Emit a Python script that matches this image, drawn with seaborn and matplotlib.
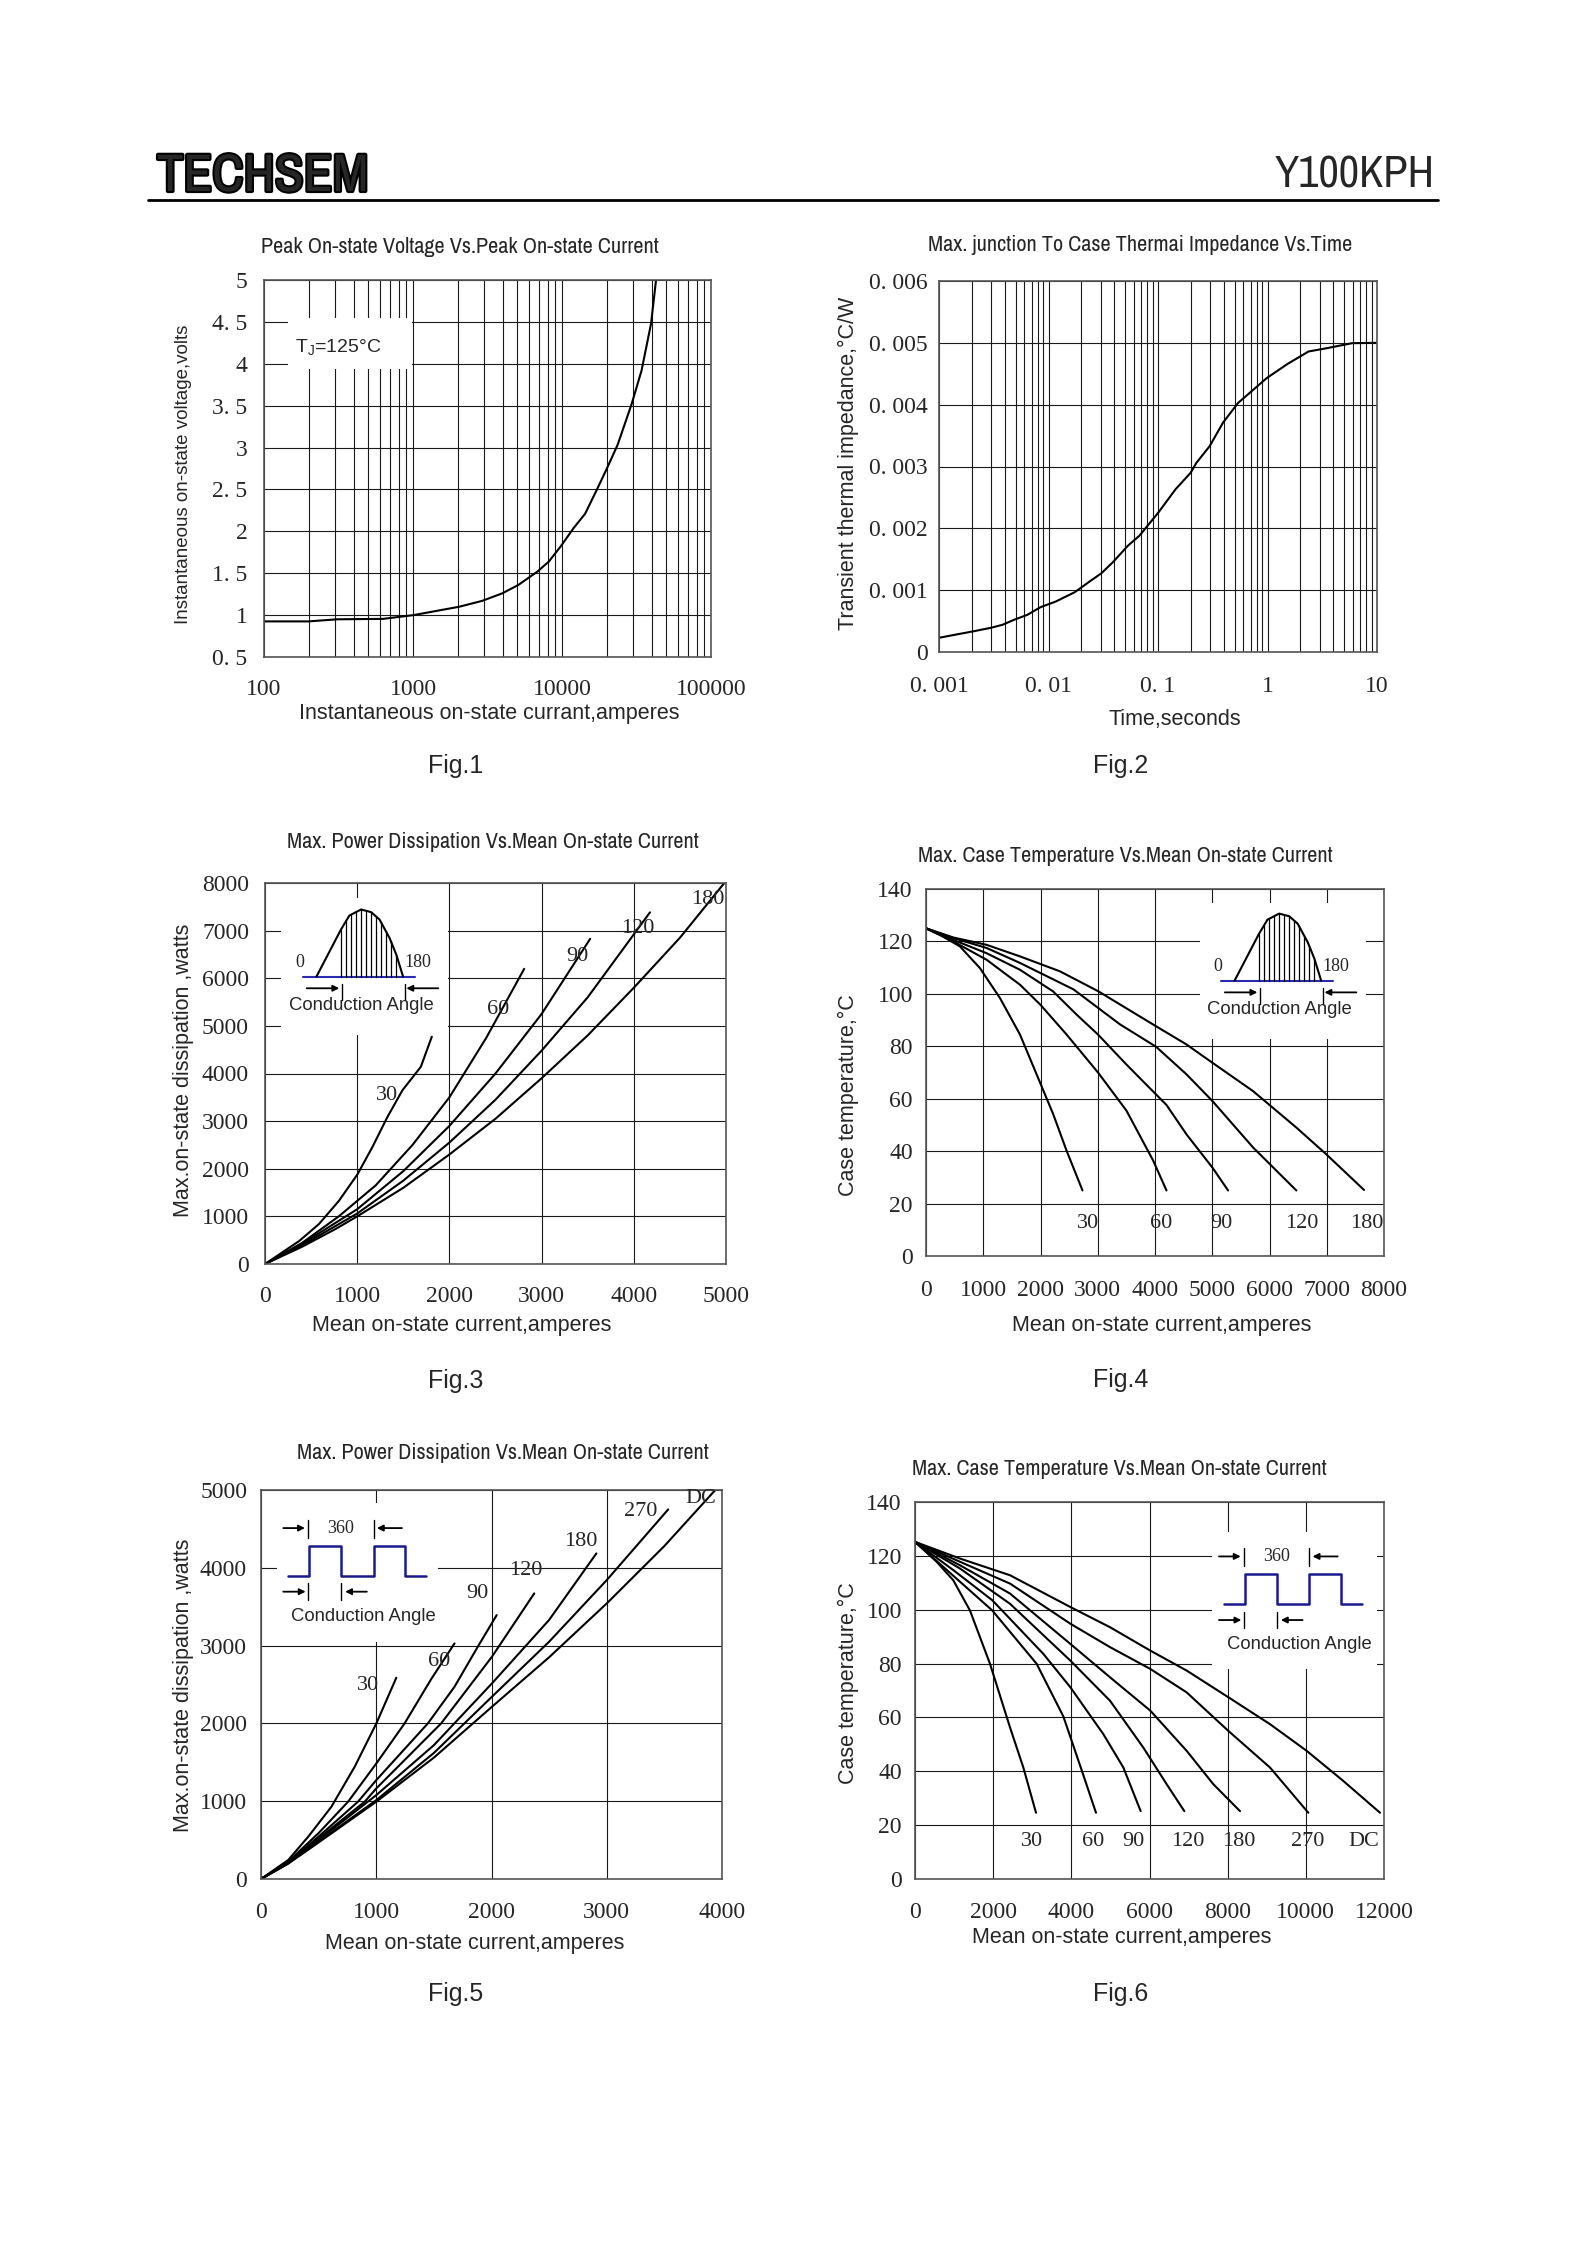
import numpy as np
import matplotlib
matplotlib.use("Agg")
import matplotlib.pyplot as plt
import matplotlib.transforms as mtransforms
import matplotlib.patheffects as pe
from matplotlib.patches import Rectangle
from matplotlib.lines import Line2D
from matplotlib import font_manager
from matplotlib.ticker import LogLocator, NullFormatter
import seaborn as sns

W, H = 1588, 2245

sns.set_style("white")
_names = sorted({f.name for f in font_manager.fontManager.ttflist})
_narrow = [n for n in _names if ("Narrow" in n or "Condensed" in n) and "DejaVu" not in n]
HAS_NARROW = len(_narrow) > 0
NARROW = [_narrow[0], "DejaVu Sans"] if HAS_NARROW else ["Liberation Sans", "DejaVu Sans"]


def _wt(w):
    if isinstance(w, str):
        return font_manager.weight_dict.get(w, 400)
    return w


HAS_NARROW_BOLD = HAS_NARROW and any(
    f.name == _narrow[0] and _wt(f.weight) >= 600 for f in font_manager.fontManager.ttflist)
SANS = ["Liberation Sans", "DejaVu Sans"]
SERIF = ["Liberation Serif", "DejaVu Serif"]
plt.rcParams["font.family"] = SANS
plt.rcParams["mathtext.fontset"] = "custom"
plt.rcParams["mathtext.rm"] = "Liberation Sans"
plt.rcParams["mathtext.it"] = "Liberation Sans"

# ---------------------------------------------------------
# DATA
# ---------------------------------------------------------
# Fig.1  peak on-state voltage vs current (Tj=125C)
f1_current = [100, 199, 310, 629, 1008, 2044, 2911, 3978, 5095, 6844, 8166, 9799,
              11976, 14294, 17058, 19770, 23591, 29338, 34200, 39600, 42770]
f1_voltage = [0.925, 0.925, 0.95, 0.955, 1.0, 1.1, 1.17, 1.26, 1.36, 1.52, 1.64, 1.82,
              2.04, 2.21, 2.49, 2.73, 3.03, 3.52, 3.92, 4.48, 5.0]

# Fig.2  transient thermal impedance vs time
f2_time = [0.001, 0.00146, 0.00204, 0.00299, 0.0038, 0.00483, 0.00639, 0.00846, 0.01164,
           0.01736, 0.0239, 0.0304, 0.0386, 0.0532, 0.0676, 0.1008, 0.1444, 0.199, 0.2243,
           0.2967, 0.3925, 0.540, 0.6867, 0.984, 1.528, 2.37, 3.40, 5.95, 10]
f2_zth = [0.00023, 0.000285, 0.000333, 0.000392, 0.00044, 0.00052, 0.0006, 0.000725, 0.000816,
          0.000967, 0.001144, 0.001273, 0.00145, 0.00172, 0.00188, 0.002256, 0.00263, 0.0029,
          0.00306, 0.00333, 0.00371, 0.00403, 0.00419, 0.00443, 0.00466, 0.00486, 0.00491,
          0.004995, 0.005]

# Fig.3  power dissipation, sine wave
f3_angles = ["30", "60", "90", "120", "180"]
f3_current = [
    [0, 369, 586, 803, 1002, 1165, 1328, 1491, 1690, 1809],
    [0, 400, 800, 1200, 1600, 2000, 2400, 2811],
    [0, 400, 1000, 1500, 2000, 2500, 3000, 3527],
    [0, 400, 1000, 1500, 2000, 2500, 3000, 3500, 4175],
    [0, 400, 767, 1000, 1500, 2000, 2500, 3000, 3500, 4000, 4500, 4982],
]
f3_power = [
    [0, 480, 840, 1330, 1880, 2456, 3088, 3649, 4140, 4772],
    [0, 440, 1000, 1650, 2500, 3500, 4750, 6197],
    [0, 420, 1150, 1950, 2900, 4000, 5250, 6829],
    [0, 390, 1060, 1750, 2550, 3450, 4480, 5600, 7383],
    [0, 360, 737, 1000, 1600, 2300, 3050, 3900, 4800, 5800, 6850, 8000],
]
f3_label_x = [1320, 2533, 3390, 4041, 4801]
f3_label_y = [3530, 5348, 6457, 7053, 7664]

# Fig.4  case temperature, sine wave
f4_angles = ["30", "60", "90", "120", "180"]
f4_current = [
    [0, 244, 593, 943, 1292, 1641, 1932, 2222, 2455, 2734],
    [0, 477, 1059, 1641, 1996, 2455, 3008, 3503, 3968, 4201],
    [0, 477, 1059, 1641, 2222, 2630, 3008, 3503, 4201, 4550, 5004, 5277],
    [0, 477, 1059, 1641, 2577, 3386, 4020, 4550, 5004, 5713, 6469],
    [0, 477, 1059, 1641, 2339, 3008, 3968, 4550, 5004, 5713, 6469, 6987, 7651],
]
f4_temp = [
    [125, 122.5, 118.1, 109.8, 98.4, 84.5, 69.3, 54.1, 40.2, 25.0],
    [125, 120.0, 113.0, 103.5, 95.9, 84.5, 69.9, 55.4, 36.4, 25.0],
    [125, 120.6, 115.5, 109.2, 100.9, 92.1, 84.4, 73.0, 57.6, 46.4, 33.7, 25.0],
    [125, 121.3, 117.5, 111.8, 101.7, 88.4, 79.8, 69.3, 59.1, 41.4, 25.0],
    [125, 121.5, 118.7, 114.3, 108.6, 101.0, 88.3, 80.7, 73.7, 62.9, 49.0, 38.9, 25.2],
]
f4_label_x = [2833, 4113, 5160, 6557, 7703]

# Fig.5  power dissipation, square wave
f5_angles = ["30", "60", "90", "120", "180", "270", "DC"]
f5_current = [
    [0, 236, 410, 611, 813, 1001, 1102, 1174],
    [0, 236, 500, 756, 1001, 1246, 1477, 1679],
    [0, 236, 500, 842, 1001, 1448, 1679, 1886, 2045],
    [0, 236, 500, 900, 1001, 1563, 2004, 2371],
    [0, 236, 500, 1001, 1500, 2004, 2500, 2910],
    [0, 236, 500, 1001, 1500, 2004, 2500, 3000, 3533],
    [0, 236, 500, 1001, 1500, 2004, 2500, 3000, 3500, 3942],
]
f5_power = [
    [0, 244, 544, 929, 1443, 2000, 2343, 2587],
    [0, 223, 590, 994, 1486, 2000, 2570, 3028],
    [0, 215, 545, 994, 1272, 2000, 2471, 2998, 3392],
    [0, 210, 520, 994, 1165, 2000, 2857, 3671],
    [0, 205, 500, 1079, 1720, 2514, 3330, 4185],
    [0, 200, 480, 1015, 1620, 2343, 3050, 3842, 4750],
    [0, 198, 470, 994, 1560, 2214, 2850, 3542, 4280, 5000],
]
f5_label_x = [929, 1549, 1880, 2299, 2774, 3293, 3813]
f5_label_y = [2493, 2793, 3671, 3970, 4334, 4720, 4891]

# Fig.6  case temperature, square wave
f6_angles = ["30", "60", "90", "120", "180", "270", "DC"]
f6_current = [
    [0, 554, 981, 1407, 1919, 2431, 2772, 3096],
    [0, 725, 1979, 3113, 3795, 4265, 4631],
    [0, 981, 1979, 3284, 3975, 4819, 5331, 5774],
    [0, 1151, 2431, 3975, 4990, 5842, 6439, 6891],
    [0, 1151, 2431, 3975, 4990, 6022, 6951, 7633, 8316],
    [0, 1151, 2431, 3975, 4990, 6022, 6951, 8017, 9083, 10064],
    [0, 1151, 2431, 3975, 4990, 6022, 6951, 8017, 9083, 10021, 10960, 11898],
]
f6_temp = [
    [125.2, 117.8, 110.9, 99.7, 79.9, 56.3, 41.4, 24.6],
    [125.2, 115.9, 99.7, 79.9, 60.4, 40.4, 24.6],
    [125.2, 114.7, 103.5, 83.6, 71.2, 53.8, 41.4, 25.2],
    [125.2, 115.3, 102.2, 81.1, 66.2, 48.8, 35.2, 25.2],
    [125.2, 116.5, 106.0, 87.3, 74.9, 62.5, 47.6, 35.2, 25.2],
    [125.2, 117.8, 109.7, 94.8, 86.1, 78.0, 69.3, 55.0, 41.4, 24.6],
    [125.2, 119.0, 112.8, 101.0, 93.5, 84.8, 77.4, 67.5, 57.5, 47.6, 36.4, 24.6],
]
f6_label_x = [3002, 4563, 5586, 6977, 8273, 10047, 11471]

# ---------------------------------------------------------
# helpers
# ---------------------------------------------------------
GRID_KW = dict(color="#1a1a1a", lw=0.8)
CURVE_KW = dict(color="black", lw=1.5, estimator=None, sort=False)
TITLE_SIZE = 16 if HAS_NARROW else 13.4


def fx(x):
    return x / W


def fy(y):
    return 1 - y / H


def add_ax(fig, x0, y0, x1, y1):
    return fig.add_axes([x0 / W, 1 - y1 / H, (x1 - x0) / W, (y1 - y0) / H])


def style_ax(ax, xpad, ypad):
    ax.set_axisbelow(True)
    ax.tick_params(which="both", length=0, labelsize=17)
    ax.tick_params(axis="x", pad=xpad)
    ax.tick_params(axis="y", pad=ypad)
    for lab in ax.get_xticklabels() + ax.get_yticklabels():
        lab.set_fontfamily(SERIF)
    for sp in ax.spines.values():
        sp.set_color("#555555")
        sp.set_linewidth(1.2)
    ax.set_xlabel("")
    ax.set_ylabel("")


def white_box(ax, x0, y0, x1, y1):
    ax.add_patch(Rectangle((x0, y0), x1 - x0, y1 - y0, transform=ax.transAxes,
                           facecolor="white", edgecolor="none", zorder=1))


def arrow(ax, tr, x0, x1, y):
    ax.annotate("", xy=(x1, y), xytext=(x0, y), xycoords=tr, textcoords=tr,
                arrowprops=dict(arrowstyle="-|>", color="black", lw=1.3, mutation_scale=9,
                                shrinkA=0, shrinkB=0), annotation_clip=False, zorder=4)


def tick_mark(ax, tr, x, y0, y1):
    ax.plot([x, x], [y0, y1], color="black", lw=1.0, transform=tr, clip_on=False, zorder=4)


def sine_inset(ax, ox, oy):
    # local units are pixels, origin at the left end of the blue baseline
    tr = mtransforms.ScaledTranslation(ox, oy, ax.transAxes)
    ax.plot([0, 112], [0, 0], color="#2a2ab0", lw=1.5, transform=tr, clip_on=False, zorder=4)
    hump_x = [13.1, 37.6, 46, 57.7, 67.8, 76.2, 86.2, 93, 99.7]
    hump_y = [0, 47, 61, 67.1, 64.4, 57, 38.6, 21.8, 0]
    ax.plot(hump_x, hump_y, color="black", lw=1.5, transform=tr, clip_on=False, zorder=4)
    for hx in np.arange(37.6, 97.0, 5.0):
        top = np.interp(hx, hump_x, hump_y)
        ax.plot([hx, hx], [0, top], color="black", lw=0.9, transform=tr, clip_on=False, zorder=4)
    ax.text(-3.7, 14.1, "0", transform=tr, ha="center", va="center", fontsize=13,
            family=SERIF, zorder=4)
    ax.text(114, 14.1, "180", transform=tr, ha="center", va="center", fontsize=13,
            family=SERIF, zorder=4)
    arrow(ax, tr, 3.4, 35.9, -11.7)
    tick_mark(ax, tr, 38.6, -7.4, -23.5)
    arrow(ax, tr, 134.9, 103, -11.7)
    tick_mark(ax, tr, 101.3, -7.4, -23.5)
    ax.text(57.7, -28.5, "Conduction Angle", transform=tr, ha="center", va="center",
            fontsize=13.3, family=SANS, zorder=4)


def square_inset(ax, ox, oy):
    tr = mtransforms.ScaledTranslation(ox, oy, ax.transAxes)
    wx = [0, 20.7, 20.7, 52.8, 52.8, 85.3, 85.3, 117.1, 117.1, 137.8]
    wy = [0, 0, 29.8, 29.8, 0, 0, 29.8, 29.8, 0, 0]
    ax.plot(wx, wy, color="#1a1a8a", lw=1.8, transform=tr, clip_on=False, zorder=4)
    ax.text(52.8, 47.5, "360", transform=tr, ha="center", va="center", fontsize=13,
            family=SERIF, zorder=4)
    arrow(ax, tr, -5, 16.7, 47.5)
    tick_mark(ax, tr, 20.1, 37.5, 55.9)
    arrow(ax, tr, 113.7, 88.6, 47.5)
    tick_mark(ax, tr, 85.3, 37.5, 55.9)
    arrow(ax, tr, -5, 17.4, -16.1)
    tick_mark(ax, tr, 20.1, -7.7, -24.4)
    arrow(ax, tr, 78.6, 56.9, -16.1)
    tick_mark(ax, tr, 52.8, -7.7, -24.4)
    ax.text(75.3, -40.5, "Conduction Angle", transform=tr, ha="center", va="center",
            fontsize=13.3, family=SANS, zorder=4)


def curve_labels(ax, xs, ys, texts):
    for x, y, t in zip(xs, ys, texts):
        ax.text(x, y, t, ha="center", va="center", fontsize=16, family=SERIF, zorder=4)


fig = plt.figure(figsize=(W / 100, H / 100), dpi=100)
fig.patch.set_facecolor("white")

# ---------------------------------------------------------
# header
# ---------------------------------------------------------
if HAS_NARROW:
    logo = fig.text(fx(157), fy(176), "TECHSEM", ha="left", va="center", family=NARROW,
                    weight="bold", fontsize=38)
    logo.set_path_effects([pe.withStroke(linewidth=1.2 if HAS_NARROW_BOLD else 3.0,
                                         foreground="black")])
else:
    fig.text(fx(156), fy(176), "TECHSEM", ha="left", va="center", family=SANS,
             weight="bold", fontsize=33)
fig.text(fx(1435), fy(176), "Y100KPH", ha="right", va="center", family=NARROW,
         fontsize=32 if HAS_NARROW else 26.5)
fig.add_artist(Line2D([fx(148), fx(1438)], [fy(200), fy(200)], color="black", lw=2))

# ---------------------------------------------------------
# Fig.1
# ---------------------------------------------------------
ax1 = add_ax(fig, 264, 280, 711, 657)
sns.lineplot(x=f1_current, y=f1_voltage, ax=ax1, **CURVE_KW)
ax1.set_xscale("log")
ax1.set_xlim(100, 100000)
ax1.set_ylim(0.5, 5)
ax1.xaxis.set_minor_locator(LogLocator(base=10, subs=np.arange(2, 10)))
ax1.xaxis.set_minor_formatter(NullFormatter())
ax1.set_xticks([100, 1000, 10000, 100000], ["100", "1000", "10000", "100000"])
ax1.set_yticks(np.arange(0.5, 5.01, 0.5),
               ["0. 5", "1", "1. 5", "2", "2. 5", "3", "3. 5", "4", "4. 5", "5"])
ax1.grid(True, which="both", axis="x", **GRID_KW)
ax1.grid(True, which="major", axis="y", **GRID_KW)
style_ax(ax1, 16, 12)
white_box(ax1, 0.053, 0.764, 0.330, 0.900)
ax1.text(0.07, 0.821, r"T$_\mathregular{J}$=125°C", transform=ax1.transAxes, ha="left",
         va="center", fontsize=14, family=SANS, zorder=4)

# ---------------------------------------------------------
# Fig.2
# ---------------------------------------------------------
ax2 = add_ax(fig, 939, 281, 1377, 652)
sns.lineplot(x=f2_time, y=f2_zth, ax=ax2, **CURVE_KW)
ax2.set_xscale("log")
ax2.set_xlim(0.001, 10)
ax2.set_ylim(0, 0.006)
ax2.xaxis.set_minor_locator(LogLocator(base=10, subs=np.arange(2, 10)))
ax2.xaxis.set_minor_formatter(NullFormatter())
ax2.set_xticks([0.001, 0.01, 0.1, 1, 10], ["0. 001", "0. 01", "0. 1", "1", "10"])
ax2.set_yticks(np.arange(0, 0.00601, 0.001),
               ["0", "0. 001", "0. 002", "0. 003", "0. 004", "0. 005", "0. 006"])
ax2.grid(True, which="both", axis="x", **GRID_KW)
ax2.grid(True, which="major", axis="y", **GRID_KW)
style_ax(ax2, 17, 8)

# ---------------------------------------------------------
# Fig.3
# ---------------------------------------------------------
ax3 = add_ax(fig, 265, 883, 726, 1264)
for xs, ys in zip(f3_current, f3_power):
    sns.lineplot(x=xs, y=ys, ax=ax3, **CURVE_KW)
ax3.set_xlim(0, 5000)
ax3.set_ylim(0, 8000)
ax3.set_xticks(range(0, 5001, 1000))
ax3.set_yticks(range(0, 8001, 1000))
ax3.grid(True, **GRID_KW)
style_ax(ax3, 16, 11.5)
white_box(ax3, 0.034, 0.601, 0.396, 0.961)
sine_inset(ax3, 0.0832, 0.7544)
curve_labels(ax3, f3_label_x, f3_label_y, f3_angles)

# ---------------------------------------------------------
# Fig.4
# ---------------------------------------------------------
ax4 = add_ax(fig, 926, 889, 1384, 1256)
for xs, ys in zip(f4_current, f4_temp):
    sns.lineplot(x=xs, y=ys, ax=ax4, **CURVE_KW)
ax4.set_xlim(0, 8000)
ax4.set_ylim(0, 140)
ax4.set_xticks(range(0, 8001, 1000))
ax4.set_yticks(range(0, 141, 20))
ax4.grid(True, **GRID_KW)
style_ax(ax4, 17, 9.5)
white_box(ax4, 0.598, 0.590, 0.961, 0.961)
sine_inset(ax4, 0.6451, 0.7502)
curve_labels(ax4, f4_label_x, [12.3] * len(f4_angles), f4_angles)

# ---------------------------------------------------------
# Fig.5
# ---------------------------------------------------------
ax5 = add_ax(fig, 261, 1490, 722, 1879)
for xs, ys in zip(f5_current, f5_power):
    sns.lineplot(x=xs, y=ys, ax=ax5, **CURVE_KW)
ax5.set_xlim(0, 4000)
ax5.set_ylim(0, 5000)
ax5.set_xticks(range(0, 4001, 1000))
ax5.set_yticks(range(0, 5001, 1000))
ax5.grid(True, **GRID_KW)
style_ax(ax5, 16.4, 10)
white_box(ax5, 0.034, 0.610, 0.384, 0.966)
square_inset(ax5, 0.0591, 0.780)
curve_labels(ax5, f5_label_x, f5_label_y, f5_angles)

# ---------------------------------------------------------
# Fig.6
# ---------------------------------------------------------
ax6 = add_ax(fig, 915, 1502, 1384, 1879)
for xs, ys in zip(f6_current, f6_temp):
    sns.lineplot(x=xs, y=ys, ax=ax6, **CURVE_KW)
ax6.set_xlim(0, 12000)
ax6.set_ylim(0, 140)
ax6.set_xticks(range(0, 12001, 2000))
ax6.set_yticks(range(0, 141, 20))
ax6.grid(True, **GRID_KW)
style_ax(ax6, 16.4, 9.5)
white_box(ax6, 0.6326, 0.5567, 0.9844, 0.920)
square_inset(ax6, 0.6588, 0.7296)
curve_labels(ax6, f6_label_x, [14.0] * len(f6_angles), f6_angles)

# ---------------------------------------------------------
# titles, axis labels, figure captions
# ---------------------------------------------------------
titles = [
    (460, 247, "Peak On-state Voltage Vs.Peak On-state Current"),
    (1140, 245, "Max. junction To Case Thermai Impedance Vs.Time"),
    (493, 842, "Max. Power Dissipation Vs.Mean On-state Current"),
    (1125, 856, "Max. Case Temperature Vs.Mean On-state Current"),
    (503, 1453, "Max. Power Dissipation Vs.Mean On-state Current"),
    (1119, 1469, "Max. Case Temperature Vs.Mean On-state Current"),
]
for x, y, t in titles:
    fig.text(fx(x), fy(y), t, ha="center", va="center", family=NARROW, fontsize=TITLE_SIZE)

xlabels = [
    (489, 713, "Instantaneous on-state currant,amperes"),
    (1175, 719, "Time,seconds"),
    (462, 1326, "Mean on-state current,amperes"),
    (1162, 1326, "Mean on-state current,amperes"),
    (475, 1944, "Mean on-state current,amperes"),
    (1122, 1937, "Mean on-state current,amperes"),
]
for x, y, t in xlabels:
    fig.text(fx(x), fy(y), t, ha="center", va="center", fontsize=15.5)

ylabels = [
    (183, 474, 13.5, "Instantaneous on-state voltage,volts"),
    (848, 463, 15.5, "Transient thermal impedance,°C/W"),
    (183, 1070, 15.5, "Max.on-state dissipation ,watts"),
    (848, 1095, 15.5, "Case temperature,°C"),
    (183, 1685, 15.5, "Max.on-state dissipation ,watts"),
    (848, 1683, 15.5, "Case temperature,°C"),
]
for x, y, s, t in ylabels:
    fig.text(fx(x), fy(y), t, ha="center", va="center", rotation=90, fontsize=s)

captions = [(456, 766, "Fig.1"), (1121, 766, "Fig.2"), (456, 1381, "Fig.3"),
            (1121, 1380, "Fig.4"), (456, 1994, "Fig.5"), (1121, 1994, "Fig.6")]
for x, y, t in captions:
    fig.text(fx(x), fy(y), t, ha="center", va="center", fontsize=18)

fig.savefig("out.png", dpi=100, facecolor="white")
